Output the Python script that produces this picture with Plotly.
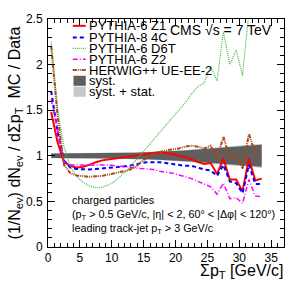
import plotly.graph_objects as go

# bin centres (Sum pT, GeV/c)
x_bins = [0.5 + i for i in range(34)]

pythia6_z1 = [1.48, 1.15, 0.93, 0.89, 0.87, 0.88, 0.90, 0.93, 0.95, 0.96,
              0.97, 0.98, 0.99, 1.00, 1.01, 1.02, 1.03, 1.04, 1.03, 1.02,
              1.00, 0.99, 0.96, 0.93, 0.91, 0.92, 0.80, 0.97, 0.74, 0.74,
              0.61, 0.97, 0.73, 0.75]
pythia8_4c = [1.71, 1.26, 0.95, 0.87, 0.855, 0.85, 0.85, 0.855, 0.86, 0.87,
              0.875, 0.88, 0.89, 0.90, 0.92, 0.93, 0.93, 0.93, 0.92, 0.91,
              0.90, 0.89, 0.89, 0.87, 0.85, 0.84, 0.78, 0.90, 0.72, 0.70,
              0.59, 0.90, 0.69, 0.69]
pythia6_d6t = [2.25, 1.52, 1.10, 0.88, 0.77, 0.71, 0.67, 0.65, 0.655, 0.68,
               0.72, 0.78, 0.85, 0.93, 1.01, 1.09, 1.18, 1.26, 1.34, 1.42,
               1.50, 1.58, 1.68, 1.76, 1.80, 1.98, 1.82, 2.36, 2.00, 2.16,
               1.88, 2.58, 2.52, 2.90]
pythia6_z2 = [1.62, 1.29, 0.94, 0.90, 0.90, 0.90, 0.90, 0.90, 0.90, 0.90,
              0.89, 0.885, 0.88, 0.87, 0.86, 0.855, 0.85, 0.83, 0.82, 0.81,
              0.79, 0.77, 0.75, 0.72, 0.69, 0.66, 0.58, 0.70, 0.53, 0.54,
              0.48, 0.74, 0.56, 0.55]
herwig_ueee2 = [2.20, 1.44, 0.90, 0.81, 0.785, 0.775, 0.77, 0.775, 0.78, 0.795,
                0.81, 0.82, 0.84, 0.87, 0.93, 0.98, 1.02, 1.04, 1.06, 1.07,
                1.08, 1.10, 1.11, 1.10, 1.08, 1.11, 0.97, 1.21, 0.97, 1.01,
                0.86, 1.24, 1.02, 0.99]
syst_err = [0.025, 0.025, 0.026, 0.026, 0.027, 0.027, 0.028, 0.028, 0.029, 0.030,
            0.031, 0.032, 0.033, 0.034, 0.036, 0.038, 0.040, 0.043, 0.046, 0.050,
            0.054, 0.058, 0.063, 0.068, 0.073, 0.078, 0.083, 0.088, 0.093, 0.098,
            0.103, 0.108, 0.114, 0.120]
stat_err = [0.003] * 17 + [0.004, 0.004, 0.005, 0.005, 0.006, 0.006, 0.007, 0.007,
                           0.008, 0.008, 0.009, 0.009, 0.010, 0.010, 0.011, 0.011, 0.012]

x_ticks = [0, 5, 10, 15, 20, 25, 30, 35]
y_ticks = [0, 0.5, 1, 1.5, 2, 2.5]

FONT = "Liberation Sans, Arial, sans-serif"

fig = go.Figure()

# bands
tot = [(s ** 2 + t ** 2) ** 0.5 + t for s, t in zip(syst_err, stat_err)]
fig.add_trace(go.Scatter(
    x=x_bins + x_bins[::-1],
    y=[1 + e for e in tot] + [1 - e for e in tot][::-1],
    fill="toself", fillcolor="#c8c8c8", line=dict(width=0), mode="lines",
    hoverinfo="skip", showlegend=False))
fig.add_trace(go.Scatter(
    x=x_bins + x_bins[::-1],
    y=[1 + e for e in syst_err] + [1 - e for e in syst_err][::-1],
    fill="toself", fillcolor="#5f5f5f", line=dict(width=0), mode="lines",
    hoverinfo="skip", showlegend=False))

series = [
    ("PYTHIA-6 Z1", pythia6_z1, dict(color="#ff0000", width=2, dash="solid")),
    ("PYTHIA-8 4C", pythia8_4c, dict(color="#0000ff", width=2, dash="4px,3px")),
    ("PYTHIA-6 D6T", pythia6_d6t, dict(color="#44bb44", width=1.2, dash="1px,1px")),
    ("PYTHIA-6 Z2", pythia6_z2, dict(color="#ff00ff", width=1.5, dash="5px,2px,1px,2px")),
    ("HERWIG++ UE-EE-2", herwig_ueee2, dict(color="#a84818", width=2, dash="4px,1px,1px,1px,1px,1px")),
]
for name, ys, ln in series:
    fig.add_trace(go.Scatter(x=x_bins, y=ys, mode="lines", line=ln, name=name,
                             showlegend=False))

# manual legend (paper coords)
rows = [0.970, 0.919, 0.871, 0.824, 0.776, 0.729, 0.681]
x0, x1, xt = 0.105, 0.16, 0.168
LEG = 13
for i, (name, ys, ln) in enumerate(series):
    fig.add_shape(type="line", xref="paper", yref="paper", x0=x0, x1=x1,
                  y0=rows[i], y1=rows[i], line=ln)
    fig.add_annotation(xref="paper", yref="paper", x=xt, y=rows[i], text=name,
                       showarrow=False, xanchor="left", yanchor="middle",
                       borderpad=0,
                       font=dict(size=LEG, color="black", family=FONT))
for i, (name, col) in enumerate([("syst.", "#5f5f5f"), ("syst. + stat.", "#c8c8c8")]):
    r = rows[5 + i]
    fig.add_shape(type="rect", xref="paper", yref="paper", x0=x0 + 0.003, x1=x1,
                  y0=r - 0.022, y1=r + 0.022, line=dict(width=0), fillcolor=col)
    fig.add_annotation(xref="paper", yref="paper", x=xt, y=r, text=name,
                       showarrow=False, xanchor="left", yanchor="middle",
                       borderpad=0,
                       font=dict(size=LEG, color="black", family=FONT))

fig.add_annotation(xref="paper", yref="paper", x=0.952, y=0.952,
                   text="CMS √s = 7 TeV", showarrow=False, xanchor="right",
                   yanchor="middle", borderpad=0,
                   font=dict(size=14, color="black", family=FONT))

txt_lines = [("charged particles", 0.207),
             ("(p<sub>T</sub> > 0.5 GeV/c, |η| < 2, 60° < |Δφ| < 120°)", 0.140),
             ("leading track-jet p<sub>T</sub> > 3 GeV/c", 0.080)]
for t, yy in txt_lines:
    fig.add_annotation(xref="paper", yref="paper", x=0.098, y=yy, text=t,
                       showarrow=False, xanchor="left", yanchor="middle",
                       borderpad=0,
                       font=dict(size=10.8, color="black", family=FONT))

fig.add_annotation(xref="paper", yref="paper", x=1.0, y=-0.108,
                   text="Σp<sub>T</sub> [GeV/c]", showarrow=False, xanchor="right",
                   yanchor="middle", borderpad=0,
                   font=dict(size=16, color="black", family=FONT))

axis_common = dict(showline=True, linecolor="black", linewidth=1, mirror="allticks",
                   ticks="inside", ticklen=7, tickcolor="black", showgrid=False,
                   zeroline=False, tickfont=dict(size=12, color="black", family=FONT))
fig.update_xaxes(range=[0, 37], tickvals=x_ticks,
                 minor=dict(ticks="inside", ticklen=4, dtick=1, tick0=0, tickcolor="black", showgrid=False),
                 **axis_common)
fig.update_yaxes(range=[0, 2.5], tickvals=y_ticks, ticklabelstandoff=2,
                 minor=dict(ticks="inside", ticklen=4, dtick=0.1, tick0=0, tickcolor="black", showgrid=False),
                 title=dict(text="(1/N<sub>ev</sub>) dN<sub>ev</sub> / dΣp<sub>T</sub>  MC / Data",
                            font=dict(size=16, color="black", family=FONT), standoff=1),
                 **axis_common)

fig.update_layout(width=297, height=285, margin=dict(l=48, r=12, t=15, b=38),
                  plot_bgcolor="white", paper_bgcolor="white", showlegend=False,
                  font=dict(family=FONT))

fig.write_html("out.html", config={"displayModeBar": False},
               post_script="document.body.style.margin='0px';")
